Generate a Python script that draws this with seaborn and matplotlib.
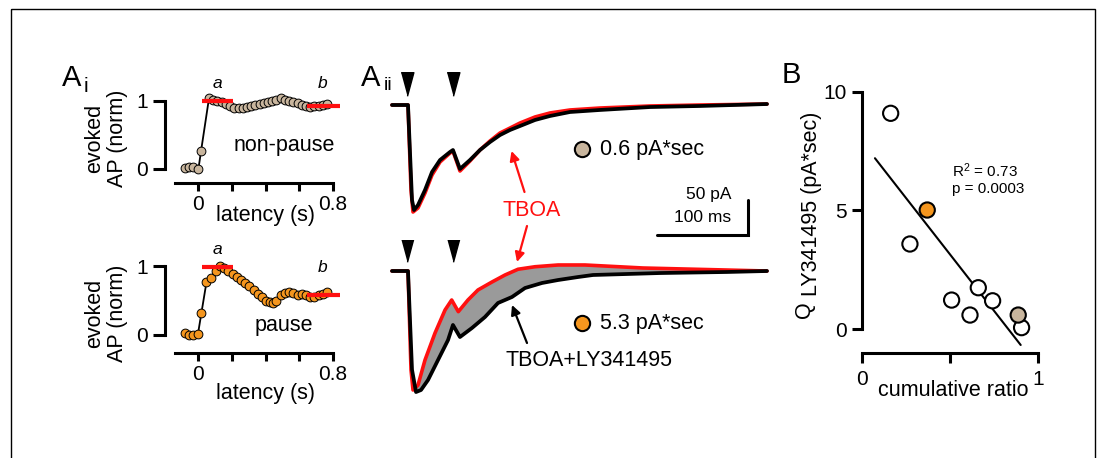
import numpy as np
import matplotlib
matplotlib.use("Agg")
import matplotlib.pyplot as plt
from matplotlib.patches import Rectangle
import seaborn as sns

# ── Panel Ai: evoked AP vs latency ───────────────────────────────────────────
LAT_NONPAUSE = [-0.077, -0.051, -0.028, 0.002, 0.018, 0.065, 0.09, 0.115, 0.14,
                0.165, 0.19, 0.215, 0.24, 0.265, 0.29, 0.315, 0.34, 0.365, 0.39,
                0.415, 0.44, 0.465, 0.49, 0.515, 0.54, 0.565, 0.59, 0.615, 0.64,
                0.665, 0.69, 0.715, 0.74, 0.765]
AP_NONPAUSE = [0.01, 0.025, 0.025, -0.005, 0.265, 1.04, 1.01, 1.0, 0.98,
               0.95, 0.92, 0.90, 0.89, 0.90, 0.91, 0.93, 0.94, 0.95, 0.97,
               0.99, 1.0, 1.02, 1.04, 1.02, 1.0, 0.99, 0.97, 0.94, 0.92,
               0.91, 0.92, 0.93, 0.94, 0.95]

LAT_PAUSE = [-0.077, -0.052, -0.028, 0.0, 0.02, 0.05, 0.075, 0.105, 0.13, 0.155,
             0.18, 0.205, 0.23, 0.255, 0.28, 0.305, 0.33, 0.355, 0.38, 0.405,
             0.425, 0.445, 0.465, 0.49, 0.515, 0.54, 0.565, 0.59, 0.615, 0.64,
             0.665, 0.69, 0.715, 0.74, 0.765]
AP_PAUSE = [0.03, 0.0, 0.0, 0.02, 0.32, 0.77, 0.83, 0.93, 1.01, 0.98,
            0.93, 0.89, 0.85, 0.80, 0.76, 0.71, 0.66, 0.60, 0.55, 0.50,
            0.48, 0.46, 0.50, 0.58, 0.62, 0.63, 0.61, 0.59, 0.60, 0.58,
            0.56, 0.55, 0.58, 0.60, 0.63]

# red "a" / "b" window bars: (start, end, level)
BAR_A_NONPAUSE = (0.022, 0.21, 1.0)
BAR_B_NONPAUSE = (0.644, 0.84, 0.93)
BAR_A_PAUSE = (0.022, 0.21, 0.99)
BAR_B_PAUSE = (0.644, 0.84, 0.59)

# ── Panel Aii: EPSC traces (ms, pA) ──────────────────────────────────────────
T_TOP_RED = [-16.5, 0, 1.1, 4.4, 6.6, 12.1, 19.8, 27.5, 36.3, 47.3, 50.5, 58.2,
             69.2, 80.2, 91.2, 102.2, 113.2, 124.2, 140.7, 157.1, 179.1, 212,
             267, 322, 395.6]
I_TOP_RED = [0, 0, 0, -121.4, -152.9, -147.1, -125.7, -100, -81.4, -68.6, -65.7,
             -94.3, -80, -64.3, -51.4, -40, -32.9, -25.7, -17.1, -11.4, -7.1,
             -4.3, -1.4, 0, 1.4]
T_TOP_BLACK = [-16.5, 0, 1.1, 5.5, 7.7, 12.1, 19.8, 27.5, 36.3, 47.3, 50.5, 58.2,
               69.2, 80.2, 91.2, 102.2, 113.2, 124.2, 140.7, 157.1, 179.1, 212,
               267, 322, 395.6]
I_TOP_BLACK = [0, 0, 0, -135.7, -150, -142.9, -121.4, -95.7, -78.6, -67.1, -64.3,
               -91.4, -78.6, -64.3, -52.9, -42.9, -35.7, -30, -21.4, -15.7, -10,
               -7.1, -2.9, -1.4, 1.4]

T_BOT_RED = [-16.5, 0, 1.1, 4.4, 6.6, 12.1, 19.8, 30.8, 41.8, 49.1, 56.4, 67,
             78, 93.4, 107.7, 122, 140.7, 166, 195.6, 259.3, 351.6, 395.6]
I_BOT_RED = [0, 0, 0, -141, -170, -162.9, -127.1, -88.6, -55.7, -41.4, -58.1,
             -41.4, -27.1, -15.7, -5.7, 2.5, 6.1, 8.6, 8.6, 4.3, 1.4, 0]
T_BOT_BLACK = [-16.5, 0, 1.1, 5.5, 9.9, 15.4, 23.1, 34.1, 45.1, 50.5, 58.2, 71.4,
               85.7, 100, 115.4, 129.7, 148.4, 165.9, 187.9, 204.4, 278, 351.6,
               395.6]
I_BOT_BLACK = [0, 0, 0, -141, -172.9, -170, -155.7, -127.1, -98.6, -77.1, -94.3,
               -81.4, -65.7, -45.7, -37.1, -24.3, -17.1, -12.9, -8.6, -5.7, -2.9,
               -1.4, 0]

STIM_TIMES = [0, 51]
CHARGE_LABELS = ["0.6 pA*sec", "5.3 pA*sec"]

# ── Panel B: charge vs cumulative ratio ──────────────────────────────────────
CUM_RATIO = [0.164, 0.273, 0.509, 0.613, 0.66, 0.741, 0.905, 0.371, 0.886]
Q_LY = [9.09, 3.59, 1.23, 0.60, 1.75, 1.20, 0.07, 5.02, 0.60]
POINT_KIND = ["open", "open", "open", "open", "open", "open", "open",
              "pause", "nonpause"]
FIT_X = [0.075, 0.90]
FIT_Y = [7.2, -0.66]

TAN = "#c8b59d"
ORANGE = "#f5961e"
RED = "#ff1010"

W, H = 1099, 458
sns.set_theme(style="ticks", rc={"text.color": "black", "axes.labelcolor": "black",
                                 "xtick.color": "black", "ytick.color": "black",
                                 "axes.edgecolor": "black"})
plt.rcParams["font.family"] = ["Liberation Sans", "DejaVu Sans"]
plt.rcParams["axes.linewidth"] = 2.2
plt.rcParams["mathtext.fontset"] = "custom"
plt.rcParams["mathtext.rm"] = "Liberation Sans"
plt.rcParams["mathtext.it"] = "Liberation Sans:italic"

fig = plt.figure(figsize=(W / 100, H / 100), dpi=100)


def px_axes(left, top, right, bottom):
    return fig.add_axes([left / W, 1 - bottom / H, (right - left) / W, (bottom - top) / H])


def draw_ai(ax, lat, ap, face, bar_a, bar_b):
    sns.lineplot(x=lat, y=ap, ax=ax, color="black", lw=1.3, sort=False,
                 estimator=None, zorder=2)
    sns.scatterplot(x=lat, y=ap, ax=ax, color=face, s=40, edgecolor="black",
                    linewidth=0.7, zorder=3, legend=False)
    for x0, x1, lev in (bar_a, bar_b):
        ax.plot([x0, x1], [lev, lev], color=RED, lw=3.0, solid_capstyle="butt", zorder=4)
    ax.set_xlim(-0.14, 0.84)
    ax.set_xticks([0, 0.2, 0.4, 0.6, 0.8])
    ax.set_xticklabels(["0", "", "", "", "0.8"])
    ax.set_yticks([0, 1])
    ax.set_yticklabels(["0", "1"])
    sns.despine(ax=ax)
    ax.spines["left"].set_position(("outward", 6.8))
    ax.spines["left"].set_bounds(0, 1)
    ax.spines["bottom"].set_bounds(-0.135, 0.8)
    ax.tick_params(axis="y", length=8.5, width=2.2, labelsize=15, pad=4)
    ax.tick_params(axis="x", length=6, width=2.2, labelsize=15, pad=3)
    ax.set_xlabel("")
    ax.set_ylabel("")
    ax.patch.set_alpha(0)


ax_np = px_axes(174.4, 87.4, 339.75, 182.6)
draw_ai(ax_np, LAT_NONPAUSE, AP_NONPAUSE, TAN, BAR_A_NONPAUSE, BAR_B_NONPAUSE)
ax_np.set_ylim(-0.2, 1.2)

ax_p = px_axes(174.4, 252.8, 339.75, 353)
draw_ai(ax_p, LAT_PAUSE, AP_PAUSE, ORANGE, BAR_A_PAUSE, BAR_B_PAUSE)
ax_p.set_ylim(-0.263, 1.2)

# traces
tri = [(-0.54, 1), (0.54, 1), (0, -1)]
ax_tt = px_axes(380, 60, 780, 240)
sns.lineplot(x=T_TOP_RED, y=I_TOP_RED, ax=ax_tt, color=RED, lw=2.6, sort=False, estimator=None)
sns.lineplot(x=T_TOP_BLACK, y=I_TOP_BLACK, ax=ax_tt, color="black", lw=2.7, sort=False, estimator=None)
ax_tt.plot(STIM_TIMES, [30, 30], ls="none", marker=tri, markersize=17, color="black")
# scale bar: 100 ms, 50 pA
ax_tt.plot([274.7, 374.7, 374.7], [-185.7, -185.7, -135.7], color="black", lw=2.2,
           solid_joinstyle="miter")
ax_tt.set_xlim(-29.67, 409.9)
ax_tt.set_ylim(-192.86, 64.29)
ax_tt.axis("off")

ax_tb = px_axes(380, 240, 780, 410)
ax_tb.fill(np.concatenate([T_BOT_RED, T_BOT_BLACK[::-1]]),
           np.concatenate([I_BOT_RED, I_BOT_BLACK[::-1]]), color="#9a9a9a", lw=0)
sns.lineplot(x=T_BOT_RED, y=I_BOT_RED, ax=ax_tb, color=RED, lw=2.6, sort=False, estimator=None)
sns.lineplot(x=T_BOT_BLACK, y=I_BOT_BLACK, ax=ax_tb, color="black", lw=2.7, sort=False, estimator=None)
ax_tb.plot(STIM_TIMES, [30, 30], ls="none", marker=tri, markersize=17, color="black")
ax_tb.set_xlim(-29.67, 409.9)
ax_tb.set_ylim(-198.57, 44.29)
ax_tb.axis("off")

# panel B
ax_b = px_axes(861.7, 79.8, 1047.2, 353.3)
face_map = {"open": "white", "pause": ORANGE, "nonpause": TAN}
sns.lineplot(x=FIT_X, y=FIT_Y, ax=ax_b, color="black", lw=1.5, zorder=2)
sns.scatterplot(x=CUM_RATIO, y=Q_LY, hue=POINT_KIND, palette=face_map, ax=ax_b,
                s=120, edgecolor="black", linewidth=1.5, zorder=3, legend=False)
ax_b.set_xlim(0, 1.05)
ax_b.set_ylim(-1.01, 10.5)
ax_b.set_xticks([0, 0.5, 1])
ax_b.set_xticklabels(["0", "", "1"])
ax_b.set_yticks([0, 5, 10])
ax_b.set_yticklabels(["0", "5", "10"])
sns.despine(ax=ax_b)
ax_b.spines["left"].set_bounds(0, 10)
ax_b.spines["bottom"].set_bounds(0, 1)
ax_b.tick_params(axis="y", length=7, width=2.2, labelsize=15, pad=4)
ax_b.tick_params(axis="x", length=7, width=2.2, labelsize=15, pad=5)
ax_b.set_xlabel("")
ax_b.set_ylabel("")
ax_b.patch.set_alpha(0)

# overlay in pixel coordinates for labels and annotations
ov = fig.add_axes([0, 0, 1, 1])
ov.set_xlim(0, W)
ov.set_ylim(H, 0)
ov.axis("off")
ov.patch.set_alpha(0)
ov.add_patch(Rectangle((11, 9), 1084, 470, fill=False, ec="black", lw=1.0))

fs = 15.5
# panel letters
ov.text(72, 78, "A", fontsize=21, ha="center", va="center")
ov.text(86, 86, "i", fontsize=15, ha="center", va="center")
ov.text(371, 78, "A", fontsize=21, ha="center", va="center")
ov.text(388, 86, "ii", fontsize=14, ha="center", va="center")
ov.text(791, 75, "B", fontsize=21, ha="center", va="center")

# Ai labels
for yc, cond, cy, ay, by in [(138, "non-pause", 145, 83, 83),
                             (313, "pause", 325, 249, 268)]:
    ov.text(95, yc, "evoked", fontsize=fs, rotation=90, ha="center", va="center")
    ov.text(117, yc, "AP (norm)", fontsize=fs, rotation=90, ha="center", va="center")
    ov.text(284, cy, cond, fontsize=fs, ha="center", va="center")
    ov.text(217, ay, "a", fontsize=12.5, style="italic", ha="center", va="center")
    ov.text(323, by, "b", fontsize=12.5, style="italic", ha="center", va="center")
ov.text(265, 216, "latency (s)", fontsize=fs, ha="center", va="center")
ov.text(266, 393, "latency (s)", fontsize=fs, ha="center", va="center")

# Aii labels
ov.plot([582], [149], marker="o", markersize=11, mfc=TAN, mec="black", mew=1.5)
ov.plot([582], [323], marker="o", markersize=11, mfc=ORANGE, mec="black", mew=1.5)
ov.text(600, 150, CHARGE_LABELS[0], fontsize=fs, ha="left", va="center")
ov.text(600, 324, CHARGE_LABELS[1], fontsize=fs, ha="left", va="center")
ov.text(732, 195, "50 pA", fontsize=12.5, ha="right", va="center")
ov.text(731, 217, "100 ms", fontsize=12.5, ha="right", va="center")
ov.text(532, 211, "TBOA", fontsize=fs, color=RED, ha="center", va="center")
ov.text(589, 361, "TBOA+LY341495", fontsize=fs, ha="center", va="center")
arrow_red = dict(arrowstyle="-|>", color=RED, lw=1.6, mutation_scale=14, shrinkA=0, shrinkB=0)
ov.annotate("", xy=(511.5, 151), xytext=(524.5, 192), arrowprops=arrow_red)
ov.annotate("", xy=(517, 262), xytext=(527, 226), arrowprops=arrow_red)
ov.annotate("", xy=(512, 305), xytext=(527, 343),
            arrowprops=dict(arrowstyle="-|>", color="black", lw=1.6, mutation_scale=14,
                            shrinkA=0, shrinkB=0))

# B labels
ov.text(953, 391, "cumulative ratio", fontsize=fs, ha="center", va="center")
ov.text(804, 310, "Q", fontsize=fs, rotation=90, ha="center", va="center")
ov.text(812, 204, "LY341495 (pA*sec)", fontsize=fs, rotation=90, ha="center", va="center")
ov.text(952, 171, "R$^2$ = 0.73", fontsize=11, ha="left", va="center")
ov.text(952, 189, "p = 0.0003", fontsize=11, ha="left", va="center")

fig.savefig("out.png", dpi=100)
